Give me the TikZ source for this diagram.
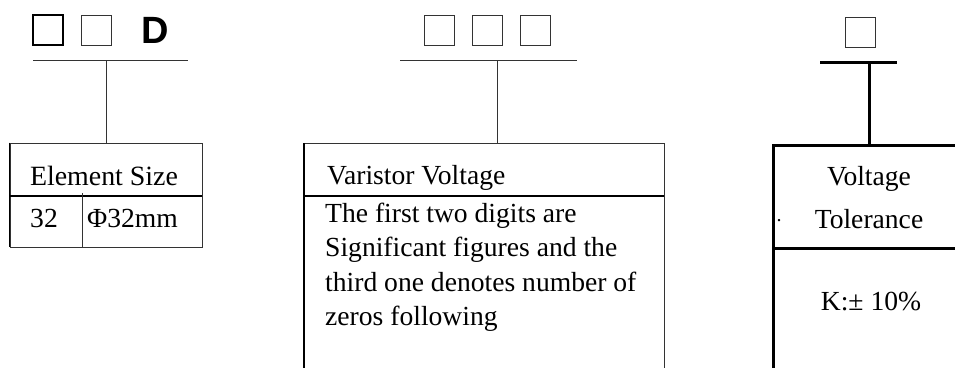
\documentclass[tikz,border=0pt]{standalone}
\usepackage{fontspec}
\setmainfont{Liberation Serif}
\newfontfamily\dfont{Liberation Sans}
\begin{document}
\begin{tikzpicture}[x=1pt,y=-1pt,
  thinline/.style={line width=0.9pt, draw=black!80},
  thickline/.style={line width=2.2pt},
  heavyline/.style={line width=3pt},
  txt/.style={inner sep=0pt, font=\fontsize{27.6}{30}\selectfont},
  digit/.style={draw, minimum size=30pt, inner sep=0pt}]
\useasboundingbox (0,0) rectangle (955,368);

% ---------- left: element size ----------
\node[digit, line width=2.6pt] (a1) at (48,30) {};
\node[digit, thinline] (a2) at (96.5,30) {};
\node[inner sep=0pt, font=\dfont\bfseries\fontsize{38}{40}\selectfont] (a3) at (155,30) {D};
\coordinate (abarL) at (33,60);
\coordinate (abarR) at (188,60);
\coordinate (abarM) at (106,60);
\draw[thinline] (abarL) -- (abarR);
\node[draw=black!80, line width=0.9pt, minimum width=192pt, minimum height=104pt, inner sep=0pt] (abox) at (106,195) {};
\draw[thinline] (abarM) -- (abox.north);
\coordinate (asepL) at (10,196);
\coordinate (asepR) at (202,196);
\draw[thickline] (asepL) -- (asepR);
\draw[line width=1.8pt] (abox.north west) -- (abox.south west);
\coordinate (adivT) at (82,193);
\coordinate (adivB) at (82,247);
\draw[thinline] (adivT) -- (adivB);
\node[txt, font=\fontsize{27.9}{30}\selectfont, anchor=base] (asize) at (104,185) {Element Size};
\node[txt, anchor=base west] (acode) at (30,227) {32};
\node[txt, anchor=base west] (aval) at (87,227) {Φ32mm};

% ---------- middle: varistor voltage ----------
\node[digit, thinline] (b1) at (439,30) {};
\node[digit, thinline] (b2) at (487,30) {};
\node[digit, thinline] (b3) at (535,30) {};
\coordinate (bbarL) at (400,60);
\coordinate (bbarR) at (577,60);
\coordinate (bbarM) at (497,60);
\draw[thinline] (bbarL) -- (bbarR);
\coordinate (bTL) at (304,143);
\coordinate (bTR) at (664,143);
\coordinate (bBL) at (304,368);
\coordinate (bBR) at (664,368);
\coordinate (bTM) at (497,143);
\draw[thinline] (bTL) -- (bTR) -- (bBR);
\draw[line width=1.8pt] (bTL) -- (bBL);
\draw[thinline] (bbarM) -- (bTM);
\coordinate (bsepL) at (304,196);
\coordinate (bsepR) at (664,196);
\draw[thickline] (bsepL) -- (bsepR);
\node[txt, anchor=base west] (btitle) at (327,184) {Varistor Voltage};
\node[txt, anchor=base west] (bl1) at (325,222) {The first two digits are};
\node[txt, anchor=base west] (bl2) at (325,256.5) {Significant figures and the};
\node[txt, anchor=base west] (bl3) at (325,291) {third one denotes number of};
\node[txt, anchor=base west] (bl4) at (325,325) {zeros following};

% ---------- right: tolerance ----------
\node[digit, thinline] (c1) at (860,32) {};
\coordinate (cbarL) at (820,62);
\coordinate (cbarR) at (897,62);
\coordinate (cbarM) at (869,62);
\draw[heavyline] (cbarL) -- (cbarR);
\coordinate (cTL) at (773,145);
\coordinate (cTR) at (956,145);
\coordinate (cBL) at (773,368);
\coordinate (cTM) at (869,145);
\draw[heavyline] (cbarM) -- (cTM);
\draw[heavyline] (cTR) -- (cTL) -- (cBL);
\coordinate (csepL) at (773,248);
\coordinate (csepR) at (956,248);
\draw[heavyline] (csepL) -- (csepR);
\node[txt, anchor=base] (ct1) at (869,185) {Voltage};
\node[txt, anchor=base] (ct2) at (869,228) {Tolerance};
\node[txt, font=\fontsize{20}{22}\selectfont, anchor=base] (cdot) at (779,221) {.};
\node[txt, anchor=base] (cval) at (871,310) {K:± 10\%};
\end{tikzpicture}
\end{document}
